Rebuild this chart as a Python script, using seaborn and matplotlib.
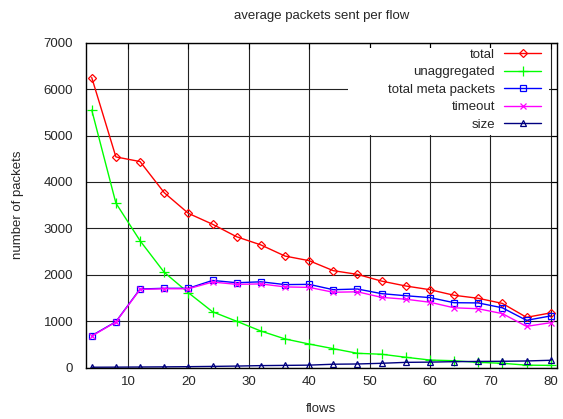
import matplotlib
matplotlib.use("Agg")
import matplotlib.pyplot as plt
from matplotlib.patches import Rectangle
import seaborn as sns
import pandas as pd

flows = [4, 8, 12, 16, 20, 24, 28, 32, 36, 40, 44, 48, 52, 56, 60, 64, 68, 72, 76, 80]
total = [6250, 4540, 4440, 3770, 3325, 3090, 2820, 2645, 2405, 2305,
         2090, 2010, 1865, 1760, 1680, 1560, 1495, 1385, 1085, 1180]
unaggregated = [5550, 3545, 2735, 2055, 1615, 1205, 1000, 790, 620, 510,
                410, 310, 290, 225, 165, 150, 115, 95, 55, 50]
meta_packets = [690, 990, 1695, 1710, 1710, 1880, 1830, 1850, 1790, 1795,
                1680, 1695, 1595, 1550, 1510, 1400, 1395, 1290, 1020, 1115]
timeout = [680, 985, 1685, 1700, 1700, 1845, 1795, 1805, 1740, 1730,
           1625, 1635, 1515, 1475, 1410, 1290, 1270, 1165, 890, 970]
size = [10, 12, 15, 18, 22, 28, 35, 45, 50, 55,
        75, 80, 95, 115, 120, 130, 135, 138, 145, 160]

series = [
    ("total", total, "#ff0000", "D", 4.0),
    ("unaggregated", unaggregated, "#00ff00", "+", 6.5),
    ("total meta packets", meta_packets, "#0000ff", "s", 4.5),
    ("timeout", timeout, "#ff00ff", "x", 4.0),
    ("size", size, "#000080", "^", 5.0),
]

sns.set_style("white")
plt.rcParams["font.family"] = ["Liberation Sans", "DejaVu Sans"]
plt.rcParams["font.size"] = 9.5

W, H = 563, 419
fig = plt.figure(figsize=(W / 100, H / 100), dpi=100)
L, R, T, B = 85.7, 556.7, 42.7, 367.7
ax = fig.add_axes([L / W, (H - B) / H, (R - L) / W, (B - T) / H])

for name, vals, col, mk, ms in series:
    df = pd.DataFrame({"flows": flows, "packets": vals})
    sns.lineplot(data=df, x="flows", y="packets", ax=ax, color=col, marker=mk,
                 markersize=ms, mfc="none", mec=col, mew=0.9, lw=1.0,
                 label=name, legend=False)

ax.set_xlim(3, 81)
ax.set_ylim(0, 7000)
ax.set_xticks(range(10, 81, 10))
ax.set_yticks(range(0, 7001, 1000))
ax.set_xlabel("")
ax.set_ylabel("")

ax.set_axisbelow(True)
ax.grid(True, color="#222222", lw=0.8)
for s in ax.spines.values():
    s.set_color("black")
    s.set_linewidth(1.0)
    s.set_visible(True)
ax.tick_params(direction="in", length=4, width=0.8, color="black",
               top=True, right=True, labelsize=9.5)
ax.tick_params(axis="y", pad=9)
ax.tick_params(axis="x", pad=6)

# blank the key area so the grid does not run through it
key_bg = Rectangle(((348 - L) / (R - L), (B - 135) / (B - T)),
                   (549 - 348) / (R - L), (135 - T - 5) / (B - T),
                   transform=ax.transAxes, facecolor="white",
                   edgecolor="none", zorder=1)
ax.add_patch(key_bg)

handles, labels = ax.get_legend_handles_labels()
leg = ax.legend(handles, labels, loc="upper right",
                bbox_to_anchor=(541 / W, 1 - 48.5 / H),
                bbox_transform=fig.transFigure, frameon=False,
                markerfirst=False, borderpad=0, borderaxespad=0,
                handlelength=2.8, handletextpad=0.7, labelspacing=0.4,
                fontsize=9.5)

fig.text((L + R) / 2 / W, 1 - 15.5 / H, "average packets sent per flow",
         ha="center", va="center", fontsize=9.5)
fig.text((L + R) / 2 / W, 1 - 409 / H, "flows", ha="center", va="center",
         fontsize=9.5)
fig.text(18 / W, 1 - (T + B) / 2 / H, "number of packets", ha="center",
         va="center", rotation=90, fontsize=9.5)

fig.savefig("out.png", dpi=100, facecolor="white")
